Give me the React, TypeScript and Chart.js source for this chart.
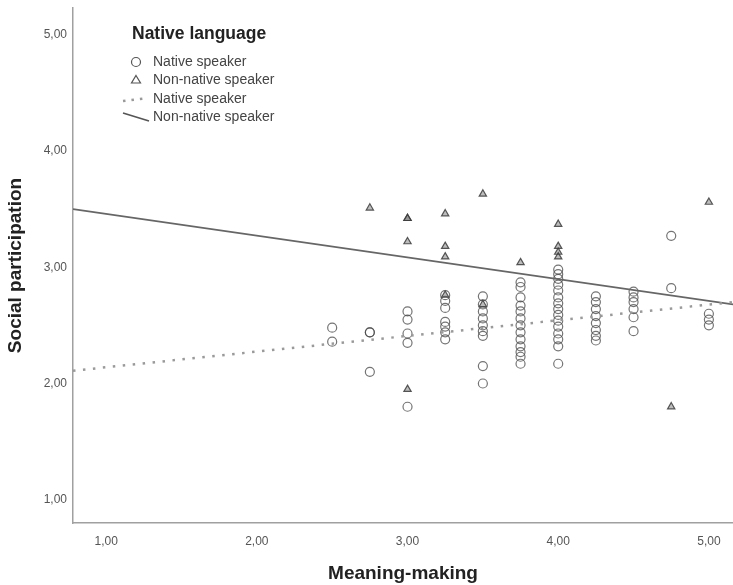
import React, { useEffect, useRef } from "react";
import { Chart, registerables } from "chart.js";

Chart.register(...registerables);

// Native speakers (circles): [x, list of y values]
const nativeGroups: [number, number[]][] = [
  [2.5, [2.48, 2.36]],
  [2.75, [2.44, 2.44, 2.1]],
  [3.0, [2.62, 2.55, 2.43, 2.35, 1.8]],
  [3.25, [2.76, 2.71, 2.65, 2.53, 2.49, 2.44, 2.38]],
  [3.5, [2.75, 2.68, 2.62, 2.56, 2.5, 2.45, 2.41, 2.15, 2.0]],
  [3.75, [2.87, 2.83, 2.74, 2.67, 2.62, 2.56, 2.5, 2.44, 2.38, 2.32, 2.27, 2.23, 2.17]],
  [4.0, [2.98, 2.94, 2.9, 2.85, 2.8, 2.74, 2.69, 2.64, 2.59, 2.54, 2.49, 2.43, 2.38, 2.32, 2.17]],
  [4.25, [2.75, 2.7, 2.64, 2.58, 2.52, 2.46, 2.41, 2.37]],
  [4.5, [2.79, 2.74, 2.7, 2.64, 2.57, 2.45]],
  [4.75, [3.27, 2.82]],
  [5.0, [2.6, 2.55, 2.5]],
];

// Non-native speakers (triangles)
const nonNativeGroups: [number, number[]][] = [
  [2.75, [3.51]],
  [3.0, [3.42, 3.42, 3.22, 1.95]],
  [3.25, [3.46, 3.18, 3.09, 2.76]],
  [3.5, [3.63, 2.68]],
  [3.75, [3.04]],
  [4.0, [3.37, 3.18, 3.13, 3.09]],
  [4.75, [1.8]],
  [5.0, [3.56]],
];

// Fit lines (endpoints at the axis range)
const nativeFitX = [0.78, 5.16];
const nativeFitY = [2.11, 2.7];
const nonNativeFitX = [0.78, 5.16];
const nonNativeFitY = [3.5, 2.68];

const tickValues = [1, 2, 3, 4, 5];
const xRange = [0.78, 5.16];
const yRange = [0.8, 5.23];

const legendTitle = "Native language";
const legendLabels = ["Native speaker", "Non-native speaker", "Native speaker", "Non-native speaker"];

const fmt = (v: number) => v.toFixed(2).replace(".", ",");

const flatten = (groups: [number, number[]][]) =>
  groups.flatMap(([x, ys]) => ys.map((y) => ({ x, y })));

const FONT = "'Liberation Sans', Arial, sans-serif";

const legendPlugin = {
  id: "spssLegend",
  afterDraw(chart: any) {
    const ctx = chart.ctx;
    const left = chart.chartArea.left;
    const top = chart.chartArea.top;
    ctx.save();
    ctx.fillStyle = "#222";
    ctx.font = `bold 17.5px ${FONT}`;
    ctx.textBaseline = "middle";
    ctx.textAlign = "left";
    ctx.fillText(legendTitle, left + 59, top + 26);

    ctx.font = `14px ${FONT}`;
    ctx.fillStyle = "#444";
    const ys = [54, 72, 91, 109];
    const textX = left + 80;
    legendLabels.forEach((lab, i) => ctx.fillText(lab, textX, top + ys[i]));

    // circle
    ctx.strokeStyle = "#555";
    ctx.lineWidth = 1.2;
    ctx.beginPath();
    ctx.arc(left + 63, top + ys[0], 4.5, 0, Math.PI * 2);
    ctx.stroke();
    // triangle
    const tx = left + 63, ty = top + ys[1];
    ctx.beginPath();
    ctx.moveTo(tx, ty - 4.5);
    ctx.lineTo(tx + 4.5, ty + 3);
    ctx.lineTo(tx - 4.5, ty + 3);
    ctx.closePath();
    ctx.stroke();
    // dotted line
    ctx.strokeStyle = "#999";
    ctx.lineWidth = 2.5;
    ctx.setLineDash([2.5, 6]);
    ctx.beginPath();
    ctx.moveTo(left + 50, top + ys[2] + 2);
    ctx.lineTo(left + 75, top + ys[2] - 1);
    ctx.stroke();
    // solid line
    ctx.setLineDash([]);
    ctx.strokeStyle = "#555";
    ctx.lineWidth = 1.6;
    ctx.beginPath();
    ctx.moveTo(left + 50, top + ys[3] - 4);
    ctx.lineTo(left + 76, top + ys[3] + 4);
    ctx.stroke();
    ctx.restore();
  },
};

export default function App() {
  const ref = useRef<HTMLCanvasElement>(null);
  useEffect(() => {
    document.body.style.margin = "0";
    const chart = new Chart(ref.current!, {
      type: "scatter",
      data: {
        datasets: [
          {
            type: "line",
            label: "Native speaker fit",
            data: nativeFitX.map((x, i) => ({ x, y: nativeFitY[i] })),
            borderColor: "#9a9a9a",
            borderWidth: 2.5,
            borderDash: [2.5, 7.5],
            pointRadius: 0,
            fill: false,
          } as any,
          {
            type: "line",
            label: "Non-native speaker fit",
            data: nonNativeFitX.map((x, i) => ({ x, y: nonNativeFitY[i] })),
            borderColor: "#666",
            borderWidth: 1.8,
            pointRadius: 0,
            fill: false,
          } as any,
          {
            label: "Native speaker",
            data: flatten(nativeGroups),
            pointStyle: "circle",
            pointRadius: 4.5,
            borderColor: "rgba(70,70,70,0.75)",
            backgroundColor: "rgba(0,0,0,0)",
            borderWidth: 1.2,
          },
          {
            label: "Non-native speaker",
            data: flatten(nonNativeGroups),
            pointStyle: "triangle",
            pointRadius: 4.2,
            borderColor: "rgba(60,60,60,0.85)",
            backgroundColor: "rgba(90,90,90,0.4)",
            borderWidth: 1.2,
          },
        ],
      },
      options: {
        animation: false,
        responsive: false,
        devicePixelRatio: 1,
        layout: { autoPadding: false, padding: { top: 8, right: 0, left: 0, bottom: 0 } },
        plugins: {
          legend: { display: false },
          tooltip: { enabled: false },
        },
        scales: {
          x: {
            type: "linear",
            min: xRange[0],
            max: xRange[1],
            afterBuildTicks: (s: any) => {
              s.ticks = tickValues.map((v) => ({ value: v }));
            },
            afterFit: (s: any) => {
              s.height = 62;
              s.paddingLeft = 0;
              s.paddingRight = 0;
            },
            grid: { display: false, drawTicks: false },
            border: { display: true, color: "#a0a0a0", width: 1.5 },
            ticks: {
              callback: (v: any) => fmt(Number(v)),
              padding: 11,
              color: "#555",
              font: { family: FONT, size: 12 },
              maxRotation: 0,
            },
            title: {
              display: true,
              text: "Meaning-making",
              color: "#222",
              font: { family: FONT, size: 19, weight: "bold" },
              padding: { top: 0, bottom: 0 },
            },
          },
          y: {
            type: "linear",
            min: yRange[0],
            max: yRange[1],
            afterBuildTicks: (s: any) => {
              s.ticks = tickValues.map((v) => ({ value: v }));
            },
            afterFit: (s: any) => {
              s.width = 73;
              s.paddingTop = 0;
              s.paddingBottom = 0;
            },
            grid: { display: false, drawTicks: false },
            border: { display: true, color: "#a0a0a0", width: 1.5 },
            ticks: {
              callback: (v: any) => fmt(Number(v)),
              padding: 6,
              color: "#555",
              font: { family: FONT, size: 12 },
            },
            title: {
              display: true,
              text: "Social participation",
              color: "#222",
              font: { family: FONT, size: 19, weight: "bold" },
              padding: { top: 4, bottom: 0 },
            },
          },
        },
      } as any,
      plugins: [legendPlugin],
    });
    return () => chart.destroy();
  }, []);
  return (
    <div style={{ position: "absolute", left: 0, top: 0, width: 733, height: 585, background: "#fff" }}>
      <canvas ref={ref} width={733} height={585} />
    </div>
  );
}
